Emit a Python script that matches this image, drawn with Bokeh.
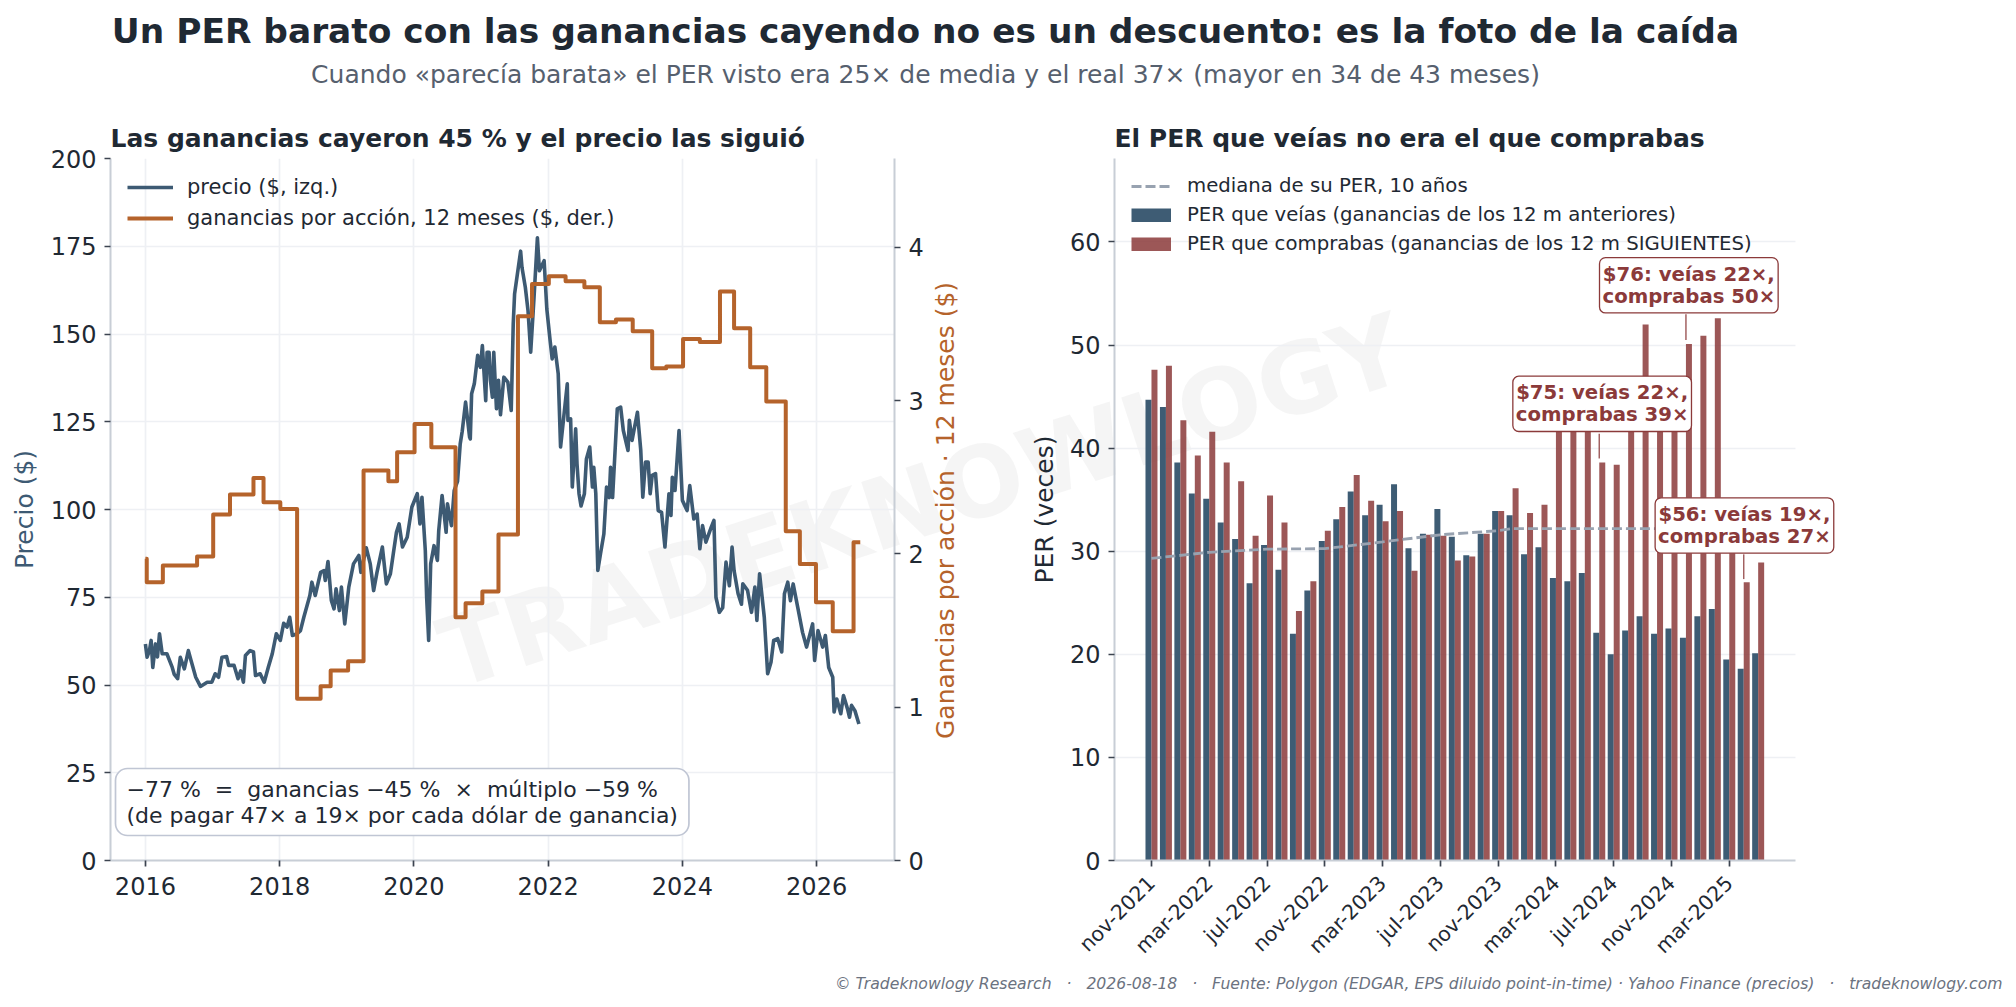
from bokeh.embed import file_html
from bokeh.resources import INLINE
from bokeh.plotting import figure
from bokeh.models import (Label, Legend, LegendItem, LinearAxis, Range1d,
                          FixedTicker, ColumnDataSource)
import math

precio_fecha = [2016.00,2016.025,2016.06,2016.085,2016.11,2016.15,2016.18,2016.21,2016.25,2016.32,2016.40,2016.43,2016.48,2016.52,2016.58,2016.64,2016.68,2016.75,2016.82,2016.92,2016.99,
2017.04,2017.09,2017.14,2017.21,2017.24,2017.32,2017.38,2017.42,2017.46,2017.49,2017.56,2017.61,2017.64,2017.71,2017.77,2017.83,2017.89,2017.95,
2018.01,2018.06,2018.11,2018.15,2018.19,2018.26,2018.31,2018.36,2018.45,2018.48,2018.53,2018.61,2018.66,2018.68,2018.72,2018.77,2018.81,2018.84,2018.89,2018.92,2018.97,
2019.03,2019.10,2019.18,2019.21,2019.29,2019.35,2019.40,2019.45,2019.53,2019.59,2019.65,2019.70,2019.74,2019.78,2019.83,2019.90,2019.97,
2020.05,2020.09,2020.12,2020.17,2020.19,2020.22,2020.25,2020.30,2020.35,2020.37,2020.42,2020.48,2020.50,2020.56,2020.60,2020.65,2020.69,2020.72,2020.77,2020.83,
2020.84,2020.86,2020.90,2020.95,2020.99,2021.02,2021.07,2021.09,2021.12,2021.14,2021.17,2021.19,2021.23,2021.26,2021.29,2021.34,2021.40,2021.45,2021.48,2021.50,2021.59,2021.61,2021.66,2021.70,2021.74,2021.79,2021.84,2021.87,2021.94,2021.98,
2022.03,2022.06,2022.10,2022.15,2022.185,2022.285,2022.295,2022.335,2022.36,2022.41,2022.43,2022.46,2022.49,2022.54,2022.57,2022.62,2022.66,2022.68,2022.71,2022.74,2022.78,2022.83,2022.87,2022.91,2022.93,2022.96,
2023.00,2023.03,2023.08,2023.12,2023.19,2023.21,2023.25,2023.33,2023.38,2023.41,2023.45,2023.49,2023.52,2023.55,2023.60,2023.64,2023.69,2023.74,2023.80,2023.83,2023.85,2023.89,2023.95,
2024.00,2024.07,2024.11,2024.17,2024.22,2024.26,2024.30,2024.35,2024.43,2024.47,2024.50,2024.55,2024.60,2024.65,2024.70,2024.74,2024.77,2024.83,2024.88,2024.90,2024.97,
2025.03,2025.08,2025.11,2025.15,2025.22,2025.27,2025.32,2025.36,2025.42,2025.48,2025.52,2025.57,2025.61,2025.65,2025.72,2025.79,2025.85,2025.94,2025.97,
2026.02,2026.09,2026.13,2026.18,2026.24,2026.26,2026.30,2026.36,2026.40,2026.46,2026.49,2026.52,2026.57,2026.63]

precio_valor = [61.7,57.9,59.8,62.7,55,61.7,58,64.6,58.9,58.9,55,53,51.8,57.9,54.6,59.8,57,52.2,49.6,50.8,50.8,
53.2,52.2,57.9,58.1,55.6,55.6,51.8,54,50.8,58.4,59.8,59.4,52.7,53.2,50.8,55,58.9,64.6,
62.7,67.6,66.5,69.3,64.1,64.6,65.5,69.3,75.5,79.3,75.5,82.1,82.6,79.8,85.2,74.1,71.7,77.4,71.2,77.9,67.4,
77.9,84.5,86.9,82.1,89.1,84.5,76.9,82.1,89.3,78.8,81.7,88.3,93.5,95.9,89.3,92.1,100.7,
104.5,95.9,103.5,88.3,75,62.7,84.5,89.7,85.5,94,104,93.5,101.6,95.4,105.4,108,118.7,122.3,130.6,120.6,
120.1,133,135.8,143.9,140.5,146.7,131,144.8,144.8,136.8,132,144.8,128.7,136.8,127,137.7,136.3,128.2,152.9,161.4,173.6,169,163.3,156.7,144.8,160.5,177.4,168,170.9,157.2,
148,142.9,146.3,138.7,117.8,135.8,125.4,125.8,106.4,123,113,104.5,101,104.5,114.4,117.8,106.4,112,104.5,82.6,87.4,93,106.4,103.4,112,103.4,
117.8,128.7,129.2,122.5,116.8,125.4,119.7,127.7,116.8,103.5,113.5,113.5,104.5,109.7,110.2,99.7,99.2,89.3,104.5,98.3,109.2,105.4,122.5,
102.6,99.7,106.8,97.3,98.7,88.8,95.4,90.7,95,96.9,75,70.7,72,85,78.3,89.3,82.6,76,73,78.8,77,
70.7,77.9,68.4,81.7,69.3,53.2,56.5,62.7,63.2,59.4,76,79.3,74,78.8,72,65,60.8,67.4,57,
65.5,60.8,64.1,55,52.2,42.3,46,41.8,47,43.2,40.8,44.2,42.7,38.9]

gpa_fecha = [2016.00,2016.02,2016.26,2016.77,2017.01,2017.26,2017.61,2017.76,2018.01,2018.26,2018.61,2018.76,2019.02,2019.25,2019.62,2019.75,2020.01,2020.26,2020.62,2020.77,2021.02,2021.26,2021.55,2021.76,2022.01,2022.26,2022.54,2022.77,2023.01,2023.26,2023.55,2023.76,2024.01,2024.26,2024.56,2024.77,2025.01,2025.25,2025.54,2025.75,2025.99,2026.24,2026.55,2026.65]
gpa_valor = [1.968,1.816,1.924,1.983,2.257,2.388,2.496,2.337,2.294,1.055,1.137,1.239,1.300,2.544,2.474,2.664,2.848,2.696,1.587,1.679,1.755,2.127,3.551,3.762,3.812,3.779,3.74,3.512,3.529,3.453,3.212,3.223,3.403,3.383,3.712,3.472,3.218,2.994,2.148,1.935,1.685,1.496,2.077,2.077]

mes_indice = list(range(43))
mes_ticks = [0,4,8,12,16,20,24,28,32,36,40]
mes_etiquetas = ["nov-2021","mar-2022","jul-2022","nov-2022","mar-2023","jul-2023","nov-2023","mar-2024","jul-2024","nov-2024","mar-2025"]
per_visto = [44.7,44.0,38.6,35.6,35.1,32.8,31.2,26.9,30.6,28.2,22.0,26.2,31.0,33.1,35.8,33.5,34.5,36.5,30.3,31.7,34.1,31.4,29.6,31.7,33.9,33.5,29.7,30.4,27.4,27.1,27.9,22.1,20.0,22.3,23.7,22.0,22.5,21.6,23.7,24.4,19.5,18.6,20.1]
per_real = [47.6,48.0,42.7,39.3,41.6,38.6,36.8,31.5,35.4,32.8,24.2,27.1,32.0,34.3,37.4,34.9,32.9,33.9,28.1,31.6,31.5,29.1,29.5,31.7,33.9,36.1,33.7,34.5,44.0,43.0,44.0,38.6,38.4,44.0,52.0,45.0,44.0,50.1,50.9,52.6,33.0,27.0,28.9]
mediana_x = [0,4,8,12,16,20,24,25,42]
mediana_y = [29.3,29.9,30.2,30.25,30.9,31.6,32.0,32.2,32.2]

NAVY = "#3d5a73"
BAR_NAVY = "#34536d"
ORANGE = "#b5632b"
RED = "#8b3a3a"
INK = "#1f2933"
SPINE = "#c8ced6"
GRID = "#eef0f4"
TICK = "#3c4450"
FONT = "DejaVu Sans"
NB = "\u00a0"

# ---------- fondo: títulos, pie y marca de agua
bg = figure(width=2016, height=1000, x_range=(0, 2016), y_range=(1000, 0),
            output_backend="svg", toolbar_location=None,
            min_border=0, min_border_left=0, min_border_right=0, min_border_top=0, min_border_bottom=0,
            x_axis_location=None, y_axis_location=None, outline_line_color=None,
            background_fill_color=None, border_fill_color=None,
            styles={"position": "absolute", "left": "0px", "top": "0px"})
bg.grid.visible = False

def txt(x, y, text, size, color, align="center", style="normal", angle=0, alpha=1.0):
    bg.add_layout(Label(x=x, y=y, text=text, text_font=FONT, text_font_size=size,
                        text_color=color, text_align=align, text_baseline="middle",
                        text_font_style=style, angle=angle, angle_units="deg", text_alpha=alpha))

txt(922, 501, "TRADEKNOWLOGY", "98px", "#888888", style="bold", angle=18.0, alpha=0.085)
txt(925, 30, "Un PER barato con las ganancias cayendo no es un descuento: es la foto de la caída",
    "34.4px", INK, style="bold")
txt(925, 74, "Cuando «parecía barata» el PER visto era 25× de media y el real 37× (mayor en 34 de 43 meses)",
    "25px", "#56606e")
sep = (NB * 3) + "·" + (NB * 3)
txt(2002, 983, "© Tradeknowlogy Research" + sep + "2026-08-18" + sep +
    "Fuente: Polygon (EDGAR, EPS diluido point-in-time) · Yahoo Finance (precios)" + sep + "tradeknowlogy.com",
    "15.65px", "#6b7280", align="right", style="italic")
txt(945, 510, "Ganancias por acción · 12 meses ($)", "25px", ORANGE, angle=90)

def style_axis(ax, size="24px", standoff=8):
    ax.axis_line_color = SPINE
    ax.axis_line_width = 2
    ax.major_tick_line_color = TICK
    ax.major_tick_line_width = 1.7
    ax.major_tick_in = 0
    ax.major_tick_out = 6
    ax.minor_tick_line_color = None
    ax.major_label_text_font = FONT
    ax.major_label_text_font_size = size
    ax.major_label_text_color = INK
    ax.major_label_standoff = standoff
    ax.axis_label_text_font = FONT
    ax.axis_label_text_font_size = "25px"
    ax.axis_label_text_font_style = "normal"

def style_title(p):
    p.title.text_font = FONT
    p.title.text_font_size = "25px"
    p.title.text_font_style = "bold"
    p.title.text_color = INK
    p.title.align = "left"
    p.title.offset = 0
    p.title.standoff = 12

# ---------- panel izquierdo
pl = figure(width=1006, height=860, x_range=Range1d(2015.48, 2027.16), y_range=Range1d(0, 200),
            output_backend="svg", toolbar_location=None, outline_line_color=None,
            background_fill_color=None, border_fill_color=None,
            min_border_left=108, min_border_right=114, min_border_top=58, min_border_bottom=100,
            title="Las ganancias cayeron 45 % y el precio las siguió",
            styles={"position": "absolute", "left": "2px", "top": "100px"})
style_title(pl)
pl.extra_y_ranges = {"gpa": Range1d(0, 4.58)}
pl.xaxis.ticker = FixedTicker(ticks=[2016, 2018, 2020, 2022, 2024, 2026])
pl.yaxis.ticker = FixedTicker(ticks=[0, 25, 50, 75, 100, 125, 150, 175, 200])
pl.xgrid.ticker = FixedTicker(ticks=[2016, 2018, 2020, 2022, 2024, 2026])
pl.ygrid.ticker = FixedTicker(ticks=[0, 25, 50, 75, 100, 125, 150, 175, 200])
for g in (pl.xgrid, pl.ygrid):
    g.grid_line_color = GRID
    g.grid_line_width = 1.7
style_axis(pl.xaxis[0], standoff=10)
style_axis(pl.yaxis[0])
pl.yaxis[0].axis_label = "Precio ($)"
pl.yaxis[0].axis_label_text_color = NAVY
pl.yaxis[0].axis_label_standoff = 9
ax_r = LinearAxis(y_range_name="gpa", ticker=FixedTicker(ticks=[0, 1, 2, 3, 4]))
style_axis(ax_r)
pl.add_layout(ax_r, "right")

r_price = pl.line(precio_fecha, precio_valor, line_color=NAVY, line_width=3.6, line_join="round")
r_gpa = pl.step(gpa_fecha, gpa_valor, mode="after", y_range_name="gpa", line_color=ORANGE,
                line_width=4, line_join="round")
leg_l = Legend(items=[LegendItem(label="precio ($, izq.)", renderers=[r_price]),
                      LegendItem(label="ganancias por acción, 12 meses ($, der.)", renderers=[r_gpa])],
               location=(17, 630), orientation="vertical", padding=0, margin=0, spacing=7,
               glyph_width=46, glyph_height=22, label_height=22, label_standoff=14,
               label_text_font=FONT, label_text_font_size="21px", label_text_color=INK,
               background_fill_alpha=0, border_line_color=None)
pl.add_layout(leg_l, "center")
pl.add_layout(Label(x=5, y=25, x_units="screen", y_units="screen",
                    text=f"−77 %{NB}{NB}={NB}{NB}ganancias −45 %{NB}{NB}×{NB}{NB}múltiplo −59 %\n(de pagar 47× a 19× por cada dólar de ganancia)",
                    text_font=FONT, text_font_size="22px", text_color=INK, text_align="left",
                    text_baseline="bottom", text_line_height=1.04, background_fill_color="white",
                    border_line_color="#c0c6d4", border_line_width=1.7, padding=(11, 8), border_radius=12))

# ---------- panel derecho
X_MIN, X_MAX = -2.56, 44.58
pr = figure(width=998, height=900, x_range=Range1d(X_MIN, 47.7), y_range=Range1d(0, 68.1),
            output_backend="svg", toolbar_location=None, outline_line_color=None,
            background_fill_color=None, border_fill_color=None,
            min_border_left=104, min_border_right=168, min_border_top=58, min_border_bottom=140,
            title="El PER que veías no era el que comprabas",
            styles={"position": "absolute", "left": "1010px", "top": "100px"})
style_title(pr)
pr.xgrid.visible = False
pr.ygrid.ticker = FixedTicker(ticks=[10, 20, 30, 40, 50, 60])
pr.ygrid.grid_line_color = GRID
pr.ygrid.grid_line_width = 1.7
pr.ygrid.cross_bounds = (X_MIN, X_MAX)
style_axis(pr.xaxis[0], "20.5px", 13)
style_axis(pr.yaxis[0])
pr.xaxis.bounds = (X_MIN, X_MAX)
pr.xaxis.ticker = FixedTicker(ticks=mes_ticks)
pr.xaxis.major_label_overrides = dict(zip(mes_ticks, mes_etiquetas))
pr.xaxis.major_label_orientation = math.pi / 4
pr.yaxis.ticker = FixedTicker(ticks=[0, 10, 20, 30, 40, 50, 60])
pr.yaxis[0].axis_label = "PER (veces)"
pr.yaxis[0].axis_label_text_color = INK
pr.yaxis[0].axis_label_standoff = 8

BAR_W = 0.415
src = ColumnDataSource(dict(x0=[i - BAR_W / 2 for i in mes_indice], x1=[i + BAR_W / 2 for i in mes_indice],
                            visto=per_visto, real=per_real))
pr.vbar(x="x0", top="visto", width=BAR_W, source=src, fill_color=BAR_NAVY, fill_alpha=0.95, line_color=None)
pr.vbar(x="x1", top="real", width=BAR_W, source=src, fill_color=RED, fill_alpha=0.85, line_color=None)
r_m = pr.line(mediana_x, mediana_y, line_color="#98a2b0", line_width=2.8, line_dash=[10, 4])
# muestras de leyenda: rectángulos a toda la caja de la leyenda (fuera del área visible)
r_v = pr.line([0, 1], [-20, -20], line_color=BAR_NAVY, line_alpha=0.95, line_width=14)
r_c = pr.line([0, 1], [-20, -20], line_color=RED, line_alpha=0.85, line_width=14)
leg_r = Legend(items=[LegendItem(label="mediana de su PER, 10 años", renderers=[r_m]),
                      LegendItem(label="PER que veías (ganancias de los 12 m anteriores)", renderers=[r_v]),
                      LegendItem(label="PER que comprabas (ganancias de los 12 m SIGUIENTES)", renderers=[r_c])],
               location=(17, 605), orientation="vertical", padding=0, margin=0, spacing=6,
               glyph_width=40, glyph_height=14, label_height=20, label_standoff=16,
               label_text_font=FONT, label_text_font_size="19.7px", label_text_color=INK,
               background_fill_alpha=0, border_line_color=None)
pr.add_layout(leg_r, "center")

guia_x = [37, 31, 41]
guia_y0 = [53.0, 41.4, 29.7]
guia_y1 = [50.5, 39.0, 27.3]
pr.segment(x0=guia_x, x1=guia_x, y0=guia_y0, y1=guia_y1, line_color=RED, line_width=1.5, line_alpha=0.8)
notas = [(37.2, 55.8, "$76: veías 22×,\ncomprabas 50×"),
         (31.2, 44.3, "$75: veías 22×,\ncomprabas 39×"),
         (41.05, 32.5, "$56: veías 19×,\ncomprabas 27×")]
for x, y, t in notas:
    pr.add_layout(Label(x=x, y=y, text=t, text_font=FONT, text_font_size="19.7px", text_font_style="bold",
                        text_color=RED, text_align="center", text_baseline="middle", text_line_height=0.97,
                        background_fill_color="white", border_line_color=RED, border_line_width=1.3,
                        padding=(3, 5), border_radius=6))

p = [bg, pl, pr]
open("out.html", "w").write(file_html(p, INLINE))
